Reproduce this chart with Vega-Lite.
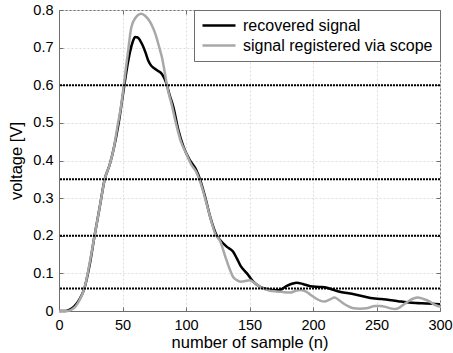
{
  "$schema": "https://vega.github.io/schema/vega-lite/v6.json",
  "width": 381,
  "height": 301,
  "autosize": "none",
  "padding": {"left": 59, "top": 10, "right": 13, "bottom": 42},
  "background": "white",
  "datasets": {
    "recovered": [
      {"n": 0, "v": 0}, {"n": 5, "v": 0}, {"n": 8, "v": 0.003}, {"n": 12, "v": 0.012}, {"n": 16, "v": 0.03},
      {"n": 20, "v": 0.06}, {"n": 24, "v": 0.12}, {"n": 28, "v": 0.2}, {"n": 32, "v": 0.275}, {"n": 36, "v": 0.35},
      {"n": 40, "v": 0.39}, {"n": 43, "v": 0.43}, {"n": 47, "v": 0.5}, {"n": 51, "v": 0.59}, {"n": 54, "v": 0.655},
      {"n": 56, "v": 0.69}, {"n": 58, "v": 0.715}, {"n": 60, "v": 0.728}, {"n": 62, "v": 0.727}, {"n": 64, "v": 0.718},
      {"n": 66, "v": 0.705}, {"n": 68, "v": 0.688}, {"n": 70, "v": 0.668}, {"n": 72, "v": 0.655}, {"n": 75, "v": 0.645},
      {"n": 78, "v": 0.638}, {"n": 81, "v": 0.63}, {"n": 83, "v": 0.618}, {"n": 85, "v": 0.6}, {"n": 87, "v": 0.575},
      {"n": 90, "v": 0.543}, {"n": 94, "v": 0.481}, {"n": 98, "v": 0.437}, {"n": 103, "v": 0.401}, {"n": 108, "v": 0.375},
      {"n": 111, "v": 0.35}, {"n": 115, "v": 0.304}, {"n": 119, "v": 0.251}, {"n": 124, "v": 0.202}, {"n": 127, "v": 0.188},
      {"n": 132, "v": 0.171}, {"n": 137, "v": 0.158}, {"n": 140, "v": 0.14}, {"n": 143, "v": 0.12}, {"n": 148, "v": 0.1},
      {"n": 153, "v": 0.078}, {"n": 158, "v": 0.065}, {"n": 164, "v": 0.058}, {"n": 170, "v": 0.055}, {"n": 174, "v": 0.056},
      {"n": 179, "v": 0.066}, {"n": 184, "v": 0.073}, {"n": 187, "v": 0.075}, {"n": 192, "v": 0.072}, {"n": 198, "v": 0.066},
      {"n": 205, "v": 0.064}, {"n": 211, "v": 0.062}, {"n": 216, "v": 0.056}, {"n": 221, "v": 0.051}, {"n": 228, "v": 0.047},
      {"n": 234, "v": 0.043}, {"n": 241, "v": 0.038}, {"n": 247, "v": 0.034}, {"n": 254, "v": 0.032}, {"n": 260, "v": 0.029},
      {"n": 267, "v": 0.026}, {"n": 274, "v": 0.023}, {"n": 281, "v": 0.021}, {"n": 289, "v": 0.02}, {"n": 295, "v": 0.019},
      {"n": 300, "v": 0.018}
    ],
    "scope": [
      {"n": 0, "v": 0}, {"n": 7, "v": 0}, {"n": 10, "v": 0.004}, {"n": 13, "v": 0.012}, {"n": 16, "v": 0.028},
      {"n": 20, "v": 0.06}, {"n": 24, "v": 0.125}, {"n": 28, "v": 0.2}, {"n": 32, "v": 0.275}, {"n": 36, "v": 0.35},
      {"n": 40, "v": 0.39}, {"n": 43, "v": 0.43}, {"n": 46, "v": 0.49}, {"n": 49, "v": 0.548}, {"n": 51, "v": 0.6},
      {"n": 54, "v": 0.68}, {"n": 57, "v": 0.755}, {"n": 60, "v": 0.778}, {"n": 62, "v": 0.786}, {"n": 65, "v": 0.79},
      {"n": 68, "v": 0.784}, {"n": 71, "v": 0.772}, {"n": 73, "v": 0.76}, {"n": 76, "v": 0.735}, {"n": 79, "v": 0.7},
      {"n": 81, "v": 0.675}, {"n": 84, "v": 0.62}, {"n": 85, "v": 0.6}, {"n": 89, "v": 0.545}, {"n": 92, "v": 0.5},
      {"n": 96, "v": 0.45}, {"n": 100, "v": 0.42}, {"n": 104, "v": 0.39}, {"n": 108, "v": 0.37}, {"n": 111, "v": 0.345},
      {"n": 115, "v": 0.3}, {"n": 119, "v": 0.25}, {"n": 123, "v": 0.205}, {"n": 127, "v": 0.185}, {"n": 131, "v": 0.144},
      {"n": 134, "v": 0.115}, {"n": 137, "v": 0.091}, {"n": 140, "v": 0.082}, {"n": 143, "v": 0.078}, {"n": 146, "v": 0.079},
      {"n": 150, "v": 0.082}, {"n": 154, "v": 0.075}, {"n": 158, "v": 0.065}, {"n": 162, "v": 0.058}, {"n": 166, "v": 0.054},
      {"n": 171, "v": 0.052}, {"n": 175, "v": 0.051}, {"n": 182, "v": 0.049}, {"n": 186, "v": 0.053}, {"n": 190, "v": 0.056},
      {"n": 195, "v": 0.051}, {"n": 198, "v": 0.043}, {"n": 202, "v": 0.034}, {"n": 206, "v": 0.027}, {"n": 209, "v": 0.025},
      {"n": 213, "v": 0.03}, {"n": 217, "v": 0.036}, {"n": 220, "v": 0.03}, {"n": 224, "v": 0.02}, {"n": 228, "v": 0.012},
      {"n": 232, "v": 0.007}, {"n": 237, "v": 0.006}, {"n": 242, "v": 0.007}, {"n": 249, "v": 0.013}, {"n": 253, "v": 0.013},
      {"n": 257, "v": 0.011}, {"n": 261, "v": 0.007}, {"n": 265, "v": 0.005}, {"n": 268, "v": 0.009}, {"n": 271, "v": 0.016},
      {"n": 276, "v": 0.028}, {"n": 282, "v": 0.036}, {"n": 287, "v": 0.032}, {"n": 292, "v": 0.025}, {"n": 296, "v": 0.016},
      {"n": 300, "v": 0.011}
    ],
    "thresholds": [{"level": 0.6}, {"level": 0.35}, {"level": 0.2}, {"level": 0.06}]
  },
  "layer": [
    {
      "data": {"name": "recovered"},
      "transform": [{"calculate": "'recovered signal'", "as": "series"}],
      "mark": {"type": "line", "interpolate": "monotone", "strokeWidth": 2.5},
      "encoding": {
        "x": {"field": "n", "type": "quantitative", "scale": {"domain": [0, 300], "nice": false},
              "axis": {"orient": "bottom", "title": "number of sample (n)", "values": [0, 50, 100, 150, 200, 250, 300], "grid": true,
                       "titleY": 23, "titleBaseline": "top", "labelPadding": 11}},
        "y": {"field": "v", "type": "quantitative", "scale": {"domain": [0, 0.8], "nice": false},
              "axis": {"orient": "left", "title": "voltage [V]", "values": [0, 0.1, 0.2, 0.3, 0.4, 0.5, 0.6, 0.7, 0.8], "grid": true,
                       "format": ".1~f", "labelPadding": 10, "titleX": -35, "titleBaseline": "bottom"}},
        "color": {"field": "series", "type": "nominal",
                  "scale": {"domain": ["recovered signal", "signal registered via scope"], "range": ["#000000", "#a8a8a8"]},
                  "legend": {"title": null, "orient": "top-right", "offset": 0}}
      }
    },
    {
      "data": {"name": "scope"},
      "transform": [{"calculate": "'signal registered via scope'", "as": "series"}],
      "mark": {"type": "line", "interpolate": "monotone", "strokeWidth": 2.5},
      "encoding": {
        "x": {"field": "n", "type": "quantitative",
              "axis": {"orient": "top", "title": null, "labels": false, "grid": false, "domain": false, "values": [0, 50, 100, 150, 200, 250, 300]}},
        "y": {"field": "v", "type": "quantitative",
              "axis": {"orient": "right", "title": null, "labels": false, "grid": false, "domain": false, "values": [0, 0.1, 0.2, 0.3, 0.4, 0.5, 0.6, 0.7, 0.8]}},
        "color": {"field": "series", "type": "nominal"}
      }
    },
    {
      "data": {"name": "thresholds"},
      "mark": {"type": "rule", "color": "#000000", "strokeWidth": 2, "strokeDash": [2, 1]},
      "encoding": {
        "y": {"field": "level", "type": "quantitative", "axis": null}
      }
    }
  ],
  "resolve": {"axis": {"x": "independent", "y": "independent"}},
  "config": {
    "view": {"stroke": "#6e6e6e", "strokeWidth": 1},
    "axis": {
      "domainColor": "#6e6e6e",
      "tickColor": "#6e6e6e",
      "tickSize": -4,
      "gridColor": "#dcdcdc",
      "gridDash": [2, 2],
      "labelFont": "Liberation Sans",
      "labelFontSize": 14.5,
      "labelColor": "#000000",
      "titleFont": "Liberation Sans",
      "titleFontSize": 16.5,
      "titleFontWeight": "normal",
      "titleColor": "#000000",
      "labelFlush": false,
      "labelOverlap": false
    },
    "legend": {
      "labelFont": "Liberation Sans",
      "labelFontSize": 16,
      "labelColor": "#000000",
      "labelLimit": 400,
      "symbolType": "M-1,0H3.714",
      "symbolSize": 196,
      "symbolStrokeWidth": 2.5,
      "labelOffset": 25,
      "padding": 7,
      "rowPadding": 3,
      "strokeColor": "#6e6e6e",
      "fillColor": "#ffffff",
      "cornerRadius": 0
    }
  }
}
